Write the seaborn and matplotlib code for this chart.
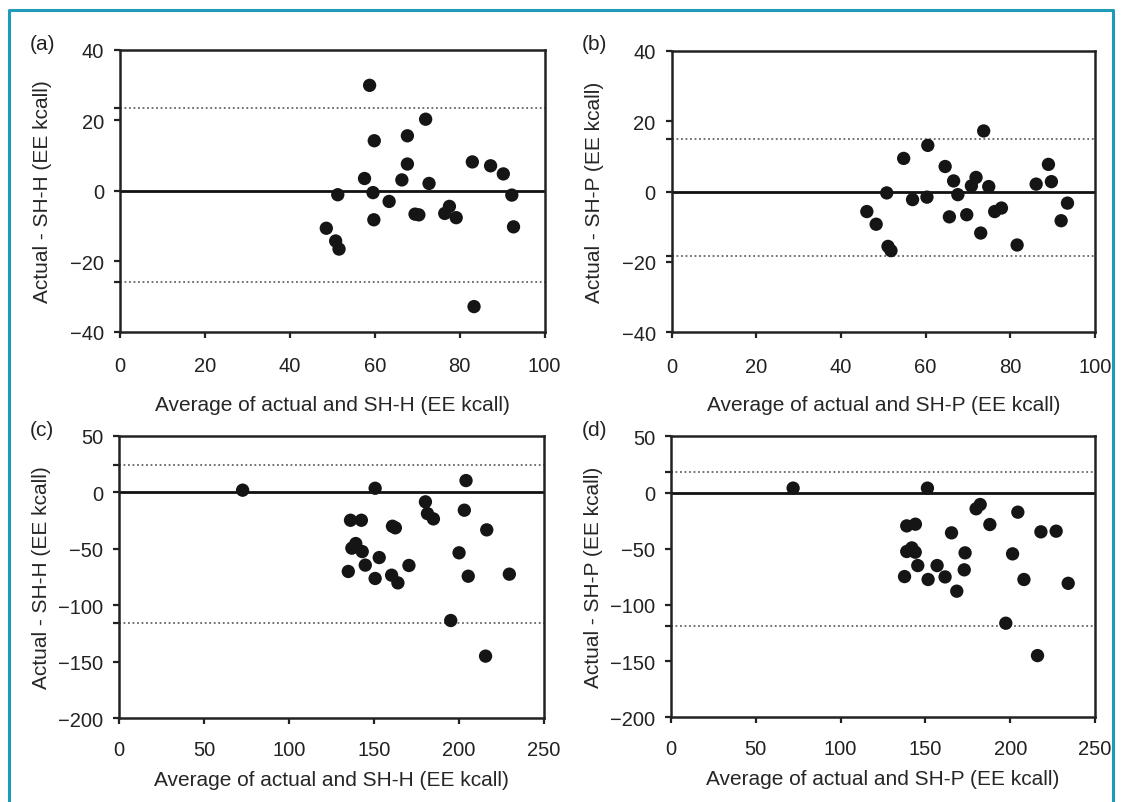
import matplotlib.pyplot as plt
import numpy as np
import pandas as pd
import seaborn as sns
from matplotlib.lines import Line2D

# Data
# (a) actual vs SH-H, first set
a_avg = [58.8, 72.0, 67.7, 59.9, 67.7, 83.0, 87.3, 90.3, 57.6, 66.4, 72.8, 51.3, 59.6,
         92.3, 63.4, 69.5, 70.4, 76.5, 77.6, 79.2, 59.8, 92.7, 48.6, 50.8, 51.6, 83.4]
a_diff = [29.9, 20.3, 15.6, 14.2, 7.6, 8.2, 7.1, 4.8, 3.5, 3.1, 2.1, -1.1, -0.5,
          -1.2, -3.0, -6.6, -6.8, -6.4, -4.4, -7.6, -8.2, -10.2, -10.6, -14.2, -16.5, -32.8]
a_limits = [23.6, -25.7]

# (b) actual vs SH-P, first set
b_avg = [73.7, 60.5, 54.8, 64.6, 89.0, 71.9, 66.6, 89.7, 70.8, 74.9, 86.1, 50.8, 67.6, 56.9,
         60.3, 46.1, 48.3, 65.6, 69.7, 76.3, 77.9, 73.0, 51.1, 51.8, 81.6, 93.5, 92.0]
b_diff = [17.2, 13.1, 9.4, 7.1, 7.7, 4.0, 3.0, 2.8, 1.6, 1.4, 2.1, -0.4, -0.9, -2.3,
          -1.6, -5.7, -9.3, -7.2, -6.6, -5.7, -4.7, -11.8, -15.6, -16.8, -15.2, -3.3, -8.3]
b_limits = [15.0, -18.4]

# (c) actual vs SH-H, second set
c_avg = [72.6, 150.6, 204.1, 180.2, 181.4, 184.9, 203.1, 136.1, 142.5, 160.8, 162.5, 216.3, 139.2, 136.9,
         143.0, 153.0, 200.0, 144.8, 170.5, 134.8, 160.3, 150.6, 164.0, 205.4, 229.6, 195.1, 215.6]
c_diff = [1.8, 3.5, 10.3, -8.5, -18.9, -23.6, -15.9, -24.8, -24.8, -30.1, -31.5, -33.3, -45.4, -49.5,
          -52.5, -57.8, -53.6, -64.5, -64.8, -70.1, -73.4, -76.3, -80.2, -74.3, -72.5, -113.5, -145.0]
c_limits = [24.2, -115.8]

# (d) actual vs SH-P, second set
d_avg = [72.0, 151.2, 182.3, 179.9, 204.5, 139.0, 144.1, 188.0, 165.4, 218.1, 227.1, 142.0, 139.0, 144.0,
         173.4, 201.4, 145.5, 156.9, 172.9, 137.7, 151.6, 161.6, 208.1, 168.5, 197.4, 216.1, 234.2]
d_diff = [3.9, 3.9, -10.7, -14.5, -17.5, -29.7, -28.2, -28.5, -35.9, -35.0, -34.4, -49.3, -52.5, -53.1,
          -53.7, -54.6, -65.0, -65.0, -68.8, -74.8, -77.4, -75.1, -77.4, -87.8, -116.3, -145.1, -80.8]
d_limits = [17.8, -119.0]

W, H = 1123, 803

sns.set_style("ticks")
plt.rcParams['font.family'] = ['Liberation Sans', 'DejaVu Sans']
plt.rcParams['axes.unicode_minus'] = True

fig = plt.figure(figsize=(W / 100, H / 100), dpi=100)


def px_axes(left, top, right, bottom):
	return fig.add_axes([left / W, 1 - bottom / H, (right - left) / W, (bottom - top) / H])


def bland_altman(ax, avg, diff, limits, xlim, ylim, xticks, yticks, xlabel, ylabel, xpad, lpad):
	df = pd.DataFrame({"avg": avg, "diff": diff})
	ax.axhline(0, color="#111111", lw=2.0, zorder=1)
	for lim in limits:
		ax.axhline(lim, color="#666666", lw=1.3, ls=(0, (1, 1.5)), zorder=1)
	sns.scatterplot(data=df, x="avg", y="diff", ax=ax, color="#151515", s=92,
					edgecolor="none", zorder=3, legend=False)
	ax.set_xlim(*xlim)
	ax.set_ylim(*ylim)
	ax.set_xticks(xticks)
	ax.set_yticks(yticks)
	ax.set_yticks(limits, minor=True)
	ax.set_xlabel(xlabel, fontsize=15, labelpad=lpad)
	ax.set_ylabel(ylabel, fontsize=15)
	ax.yaxis.set_label_coords(-0.16, 0.5)
	ax.tick_params(axis="both", which="both", direction="out", length=4.5, width=1.6,
				   color="#222222", labelsize=14.5, labelcolor="#222222")
	ax.tick_params(axis="x", pad=xpad)
	ax.tick_params(axis="y", pad=7)
	for sp in ax.spines.values():
		sp.set_visible(True)
		sp.set_linewidth(1.8)
		sp.set_color("#222222")


ax_a = px_axes(120, 50.7, 544.5, 333)
ax_b = px_axes(671.7, 51.7, 1095, 333.3)
ax_c = px_axes(119.3, 436.7, 544, 719.3)
ax_d = px_axes(671, 437.3, 1095, 718.3)

bland_altman(ax_a, a_avg, a_diff, a_limits, (0, 100), (-40, 40), [0, 20, 40, 60, 80, 100],
			 [-40, -20, 0, 20, 40], "Average of actual and SH-H (EE kcall)", "Actual - SH-H (EE kcall)", 13, 14)
bland_altman(ax_b, b_avg, b_diff, b_limits, (0, 100), (-40, 40), [0, 20, 40, 60, 80, 100],
			 [-40, -20, 0, 20, 40], "Average of actual and SH-P (EE kcall)", "Actual - SH-P (EE kcall)", 13, 14)
bland_altman(ax_c, c_avg, c_diff, c_limits, (0, 250), (-200, 50), [0, 50, 100, 150, 200, 250],
			 [-200, -150, -100, -50, 0, 50], "Average of actual and SH-H (EE kcall)", "Actual - SH-H (EE kcall)", 11, 8)
bland_altman(ax_d, d_avg, d_diff, d_limits, (0, 250), (-200, 50), [0, 50, 100, 150, 200, 250],
			 [-200, -150, -100, -50, 0, 50], "Average of actual and SH-P (EE kcall)", "Actual - SH-P (EE kcall)", 11, 8)

# Panel letters
for lab, x, y in [("(a)", 30, 44), ("(b)", 582, 45), ("(c)", 30, 431), ("(d)", 582, 431)]:
	fig.text(x / W, 1 - y / H, lab, fontsize=15, color="#222222", ha="left", va="center")

# Teal frame round the figure (left, top, right)
teal = "#1f9ab8"
frame_x = [9 / W, 9 / W, 1113 / W, 1113 / W]
frame_y = [0, 1 - 11 / H, 1 - 11 / H, 0]
fig.add_artist(Line2D(frame_x, frame_y, color=teal, lw=2.2, transform=fig.transFigure))

fig.savefig("out.png", dpi=100, facecolor="white")
